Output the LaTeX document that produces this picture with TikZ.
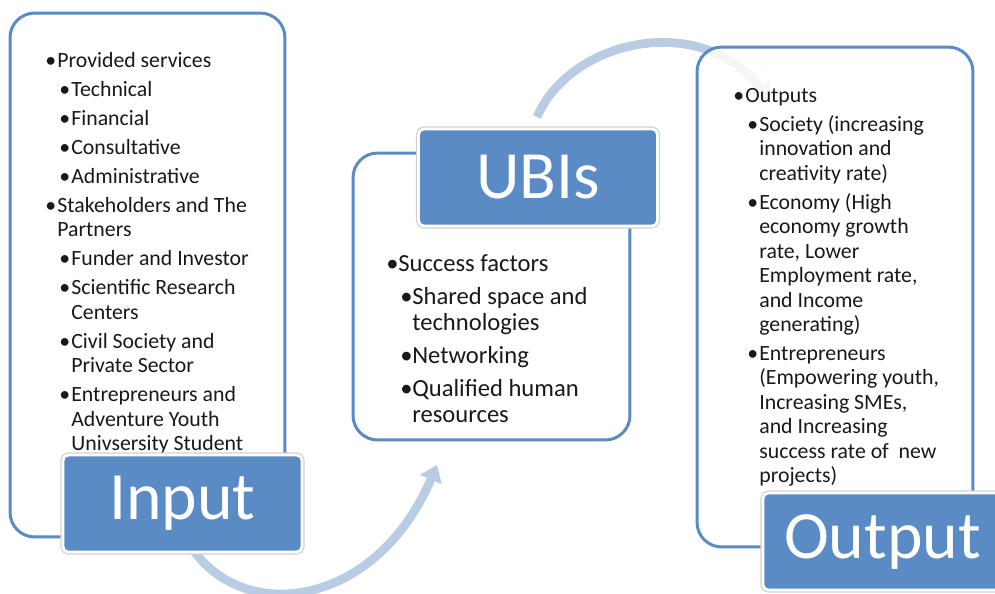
\documentclass[tikz,border=0pt]{standalone}
\usepackage{fontspec}
\setmainfont{Carlito}
\usetikzlibrary{positioning,arrows.meta}

\definecolor{ubiblue}{RGB}{91,139,196}
\definecolor{arcblue}{RGB}{185,204,228}
\definecolor{ink}{RGB}{25,25,25}

% bullet levels and continuation lines
\newcommand{\bulA}[1]{\makebox[0.24cm][l]{\textbullet}#1}
\newcommand{\bulB}[1]{\hspace*{0.28cm}\makebox[0.24cm][l]{\textbullet}#1}
\newcommand{\contA}[1]{\hspace*{0.24cm}#1}
\newcommand{\contB}[1]{\hspace*{0.52cm}#1}

\begin{document}
\begin{tikzpicture}[
    x=0.02cm, y=-0.02cm,
    frame/.style={draw=ubiblue, line width=1.7pt, rounded corners=14pt, fill=white, inner sep=0pt},
    tag/.style={fill=ubiblue, draw=white, line width=1.6pt, rounded corners=3pt, text=white,
      font=\fontsize{38.5}{46}\selectfont, minimum width=4.78cm, minimum height=1.94cm, inner sep=0pt,
      preaction={draw=black!18, line width=3pt}},
    list/.style={anchor=north west, align=left, inner sep=0pt, text=ink, font=\fontsize{12.4}{13.9}\selectfont},
    flow/.style={draw=arcblue, line width=5pt, -{Triangle[length=9pt, width=13pt]}}
  ]
    \useasboundingbox (0,0) rectangle (995,593);

    \coordinate (arcA) at (537,117);
    \coordinate (arcB) at (770,100);
    \coordinate (arrA) at (190,545);
    \coordinate (arrB) at (437,465);
    \draw[flow] (arcA) .. controls (570,40) and (700,10) .. (arcB);
    \draw[flow] (arrA) .. controls (240,625) and (375,610) .. (arrB);

    \node[frame, minimum width=5.5cm, minimum height=10.48cm] (inframe) at (147.5,275) {};
    \node[frame, minimum width=5.52cm, minimum height=10cm, fill opacity=0.85] (outframe) at (835,297) {};
    \node[frame, minimum width=5.54cm, minimum height=5.74cm] (ubiframe) at (491.5,296.5) {};

    \node[list] (inlist) at (45,52) {\bulA{Provided services}\\[2.6pt]
      \bulB{Technical}\\[2.6pt]
      \bulB{Financial}\\[2.6pt]
      \bulB{Consultative}\\[2.6pt]
      \bulB{Administrative}\\[2.6pt]
      \bulA{Stakeholders and The}\\
      \contA{Partners}\\[2.6pt]
      \bulB{Funder and Investor}\\[2.6pt]
      \bulB{Scientific Research}\\
      \contB{Centers}\\[2.6pt]
      \bulB{Civil Society and}\\
      \contB{Private Sector}\\[2.6pt]
      \bulB{Entrepreneurs and}\\
      \contB{Adventure Youth}\\
      \contB{Univsersity Student}};
    \node[list, font=\fontsize{14}{14.8}\selectfont] (ubilist) at (386,254) {\bulA{Success factors}\\[4pt]
      \bulB{Shared space and}\\
      \contB{technologies}\\[4pt]
      \bulB{Networking}\\[4pt]
      \bulB{Qualified human}\\
      \contB{resources}};
    \node[list] (outlist) at (733,88) {\bulA{Outputs}\\[2.6pt]
      \bulB{Society (increasing}\\
      \contB{innovation and}\\
      \contB{creativity rate)}\\[2.6pt]
      \bulB{Economy (High}\\
      \contB{economy growth}\\
      \contB{rate, Lower}\\
      \contB{Employment rate,}\\
      \contB{and Income}\\
      \contB{generating)}\\[2.6pt]
      \bulB{Entrepreneurs}\\
      \contB{(Empowering youth,}\\
      \contB{Increasing SMEs,}\\
      \contB{and Increasing}\\
      \contB{success rate of~ new}\\
      \contB{projects)}};

    \node[tag] (input) at (182.5,503.5) {Input};
    \node[tag] (ubis) at (538,177.5) {UBIs};
    \node[tag] (output) at (882.5,541.5) {Output};
  \end{tikzpicture}
\end{document}
